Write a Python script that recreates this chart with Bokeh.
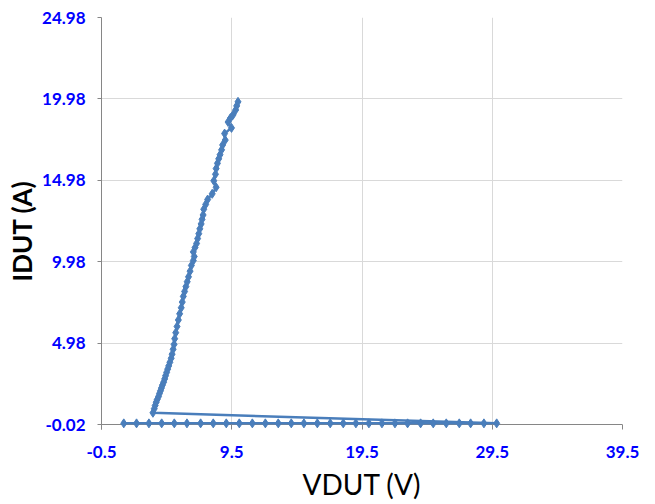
from bokeh.plotting import figure
from bokeh.models import FixedTicker, Span, Title
from bokeh.embed import file_html
from bokeh.resources import INLINE

# Sweep along VDUT at ~0 A
vdut_flat = [1.21, 2.19, 3.14, 4.12, 5.09, 6.06, 7.11, 8.08, 9.08, 10.08,
             11.08, 12.08, 13.07, 14.07, 15.04, 16.07, 17.06, 18.06, 19.03, 20.03,
             21.03, 22.03, 23.0, 24.0, 24.97, 25.97, 26.97, 27.84, 28.86, 29.84]
idut_flat = [0.05] * len(vdut_flat)

# Rising branch
vdut_rise = [3.45, 3.55, 3.62, 3.70, 3.78, 3.88, 3.95, 4.03, 4.10, 4.18,
             4.27, 4.35, 4.42, 4.50, 4.58, 4.66, 4.75, 4.85, 4.92, 5.00,
             5.07, 5.12, 5.20, 5.30, 5.40, 5.50, 5.62, 5.70, 5.78, 5.88,
             5.98, 6.08, 6.18, 6.30, 6.40, 6.55, 6.62, 6.55, 6.68, 6.80,
             6.88, 6.97, 7.05, 7.15, 7.22, 7.30, 7.35, 7.50, 7.65, 8.00,
             8.30, 8.12, 8.25, 8.30, 8.40, 8.50, 8.60, 8.72, 8.80, 9.00,
             8.95, 9.48, 9.22, 9.40, 9.60, 9.80, 9.88, 9.98]
idut_rise = [0.70, 0.95, 1.15, 1.35, 1.52, 1.70, 1.88, 2.05, 2.22, 2.40,
             2.58, 2.78, 2.98, 3.18, 3.38, 3.58, 3.80, 4.05, 4.30, 4.60,
             4.90, 5.25, 5.62, 6.00, 6.40, 6.78, 7.15, 7.50, 7.85, 8.15,
             8.45, 8.75, 9.05, 9.40, 9.75, 10.05, 10.30, 10.58, 10.85, 11.10,
             11.40, 11.70, 12.00, 12.30, 12.58, 12.85, 13.20, 13.50, 13.80, 14.15,
             14.55, 14.95, 15.35, 15.70, 16.02, 16.30, 16.55, 16.85, 17.15, 17.45,
             17.85, 18.20, 18.56, 18.80, 19.00, 19.30, 19.55, 19.80]

x_ticks = [-0.5, 9.5, 19.5, 29.5, 39.5]
y_ticks = [-0.02, 4.98, 9.98, 14.98, 19.98, 24.98]

vdut = vdut_flat + vdut_rise
idut = idut_flat + idut_rise

BLUE = "#4a7ebb"
GREY = "#868686"
FONT = "Lato"

# small padding below the x axis so that markers on it are not clipped
y_pad = 0.307

p = figure(width=655, height=504, output_backend="svg", toolbar_location=None,
           x_range=(x_ticks[0], x_ticks[-1]),
           y_range=(y_ticks[0] - y_pad, y_ticks[-1]),
           min_border_left=101, min_border_right=33, min_border_top=17, min_border_bottom=75)
p.outline_line_color = None
p.background_fill_color = "white"
p.border_fill_color = "white"

p.xgrid.grid_line_color = "#d9d9d9"
p.ygrid.grid_line_color = "#d9d9d9"

# visible x-axis line at y = -0.02 (under the markers)
p.add_layout(Span(location=y_ticks[0], dimension="width", line_color=GREY,
                  line_width=1, level="underlay"))

p.line(vdut, idut, line_color=BLUE, line_width=2.5)
p.scatter(vdut, idut, marker="diamond", size=9, fill_color=BLUE, line_color=BLUE)

p.xaxis.ticker = FixedTicker(ticks=x_ticks)
p.yaxis.ticker = FixedTicker(ticks=y_ticks)
p.xaxis.major_label_overrides = {t: str(t) for t in x_ticks}
p.yaxis.major_label_overrides = {t: "%.2f" % t for t in y_ticks}

for ax in (p.xaxis, p.yaxis):
    ax.axis_line_color = GREY
    ax.major_tick_line_color = GREY
    ax.minor_tick_line_color = None
    ax.major_label_text_color = "#0000FF"
    ax.major_label_text_font = FONT
    ax.major_label_text_font_style = "bold"
    ax.major_label_text_font_size = "17px"
    ax.axis_label_text_color = "black"
    ax.axis_label_text_font = FONT

p.yaxis.major_tick_out = 4
p.yaxis.major_tick_in = 0
p.yaxis.major_label_standoff = 12

p.xaxis.axis_line_color = None
p.xaxis.major_tick_out = 0
p.xaxis.major_tick_in = 5
p.xaxis.major_label_standoff = 16
p.xaxis.axis_label = "VDUT (V)"
p.xaxis.axis_label_text_font_style = "normal"
p.xaxis.axis_label_text_font_size = "28px"
p.xaxis.axis_label_standoff = 6

p.add_layout(Title(text="IDUT (A)", align="left", offset=148,
                   text_font=FONT, text_font_style="bold", text_font_size="26px",
                   text_color="black", standoff=4), "left")

open("out.html", "w").write(file_html(p, INLINE))
